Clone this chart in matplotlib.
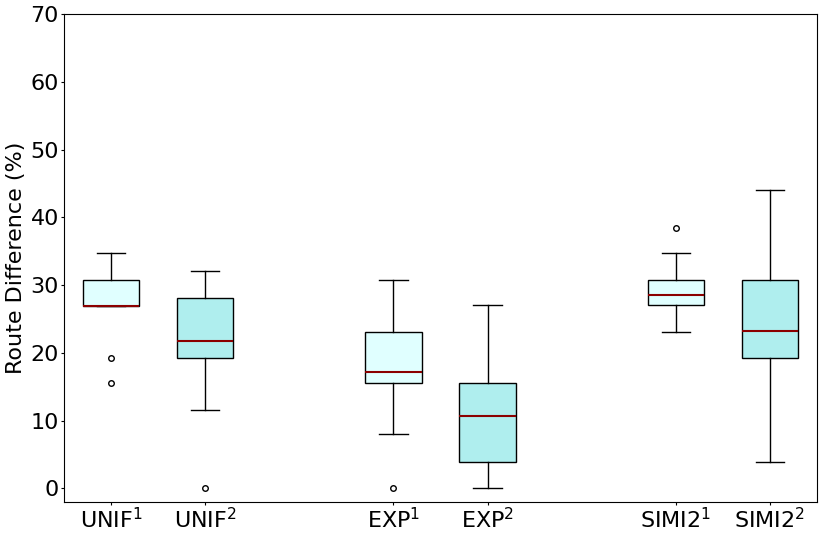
import matplotlib
matplotlib.use("Agg")
import matplotlib.pyplot as plt

labels = ["UNIF$^1$", "UNIF$^2$", "EXP$^1$", "EXP$^2$", "SIMI2$^1$", "SIMI2$^2$"]
positions = [1, 2, 4, 5, 7, 8]
whislo = [26.9, 11.6, 8.1, 0.0, 23.1, 3.9]
q1 = [26.9, 19.3, 15.5, 3.9, 27.0, 19.3]
med = [26.9, 21.8, 17.2, 10.7, 28.6, 23.3]
q3 = [30.8, 28.1, 23.1, 15.5, 30.8, 30.8]
whishi = [34.7, 32.1, 30.8, 27.0, 34.7, 44.1]
fliers = [[19.3, 15.5], [0.0], [0.0], [], [38.5], []]
colors = ["lightcyan", "paleturquoise"] * 3

stats = []
for i in range(len(labels)):
    stats.append(dict(label=labels[i], whislo=whislo[i], q1=q1[i], med=med[i],
                      q3=q3[i], whishi=whishi[i], fliers=fliers[i]))

fig = plt.figure(figsize=(8.22, 5.35), dpi=100)
ax = fig.add_axes([64/822, 1-502/535, (817-64)/822, (502-14)/535])
bp = ax.bxp(stats, positions=positions, widths=0.6, patch_artist=True,
            medianprops=dict(color="darkred", linewidth=1.5),
            flierprops=dict(marker="o", markersize=4, markerfacecolor="none",
                            markeredgecolor="black"))
for patch, c in zip(bp["boxes"], colors):
    patch.set_facecolor(c)
    patch.set_edgecolor("black")

ax.set_xlim(0.5, 8.5)
ax.set_ylim(-2, 70)
ax.set_yticks(range(0, 71, 10))
ax.tick_params(axis="both", labelsize=16, length=2.2, pad=1.5)
ax.set_ylabel("Route Difference (%)", fontsize=16, labelpad=3)
fig.savefig("out.png", dpi=100)
